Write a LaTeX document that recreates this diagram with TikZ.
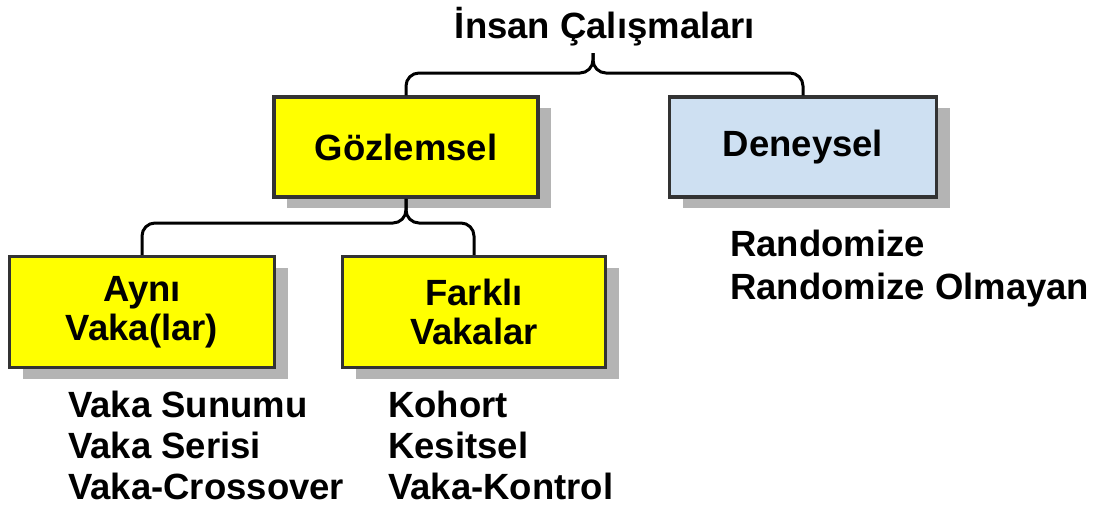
\documentclass[tikz,border=0pt]{standalone}
\usepackage{fontspec}
\setmainfont{Liberation Sans}
\usepackage{tikz}
\usetikzlibrary{shadows}
\definecolor{kutusari}{HTML}{FFFF00}
\definecolor{kutumavi}{HTML}{CEE0F2}
\definecolor{kenar}{HTML}{333333}
\definecolor{golge}{HTML}{B4B4B4}

\begin{document}
\begin{tikzpicture}[x=1pt,y=-1pt,
  kutu/.style={draw=kenar,line width=3.5pt,align=center,inner sep=0pt,
    font=\fontsize{36.5}{39}\selectfont\bfseries,
    drop shadow={shadow xshift=13pt,shadow yshift=-11pt,fill=golge,opacity=1}},
  yazi/.style={anchor=base west,inner sep=0pt,font=\fontsize{36.5}{40}\selectfont\bfseries},
  kavis/.style={line width=3pt,rounded corners=13pt}]
\useasboundingbox (0,0) rectangle (1102,509);
\node[anchor=base,inner sep=0pt,font=\fontsize{36.5}{40}\selectfont\bfseries] (baslik) at (605,38){İnsan Çalışmaları};
\node[kutu,fill=kutusari,minimum width=264pt,minimum height=100pt] (gozlem) at (406,147){Gözlemsel};
\node[kutu,fill=kutumavi,minimum width=267pt,minimum height=100pt] (deney) at (803,147){Deneysel};
\node[kutu,fill=kutusari,minimum width=265pt,minimum height=111pt] (ayni) at (142,312){Aynı\\Vaka(lar)};
\node[kutu,fill=kutusari,minimum width=263pt,minimum height=111pt] (farkli) at (474,312){Farklı\\Vakalar};
\coordinate (ust) at (593,53);
\coordinate (ustorta) at (593,73);
\coordinate (alt) at (406,223);
\draw[kavis] (gozlem.north) |- (ustorta) -- (ust);
\draw[kavis] (deney.north) |- (ustorta) -- (ust);
\draw[kavis] (ayni.north) |- (alt) -- (gozlem.south);
\draw[kavis] (farkli.north) |- (alt) -- (gozlem.south);
\node[yazi] (sunum) at (68,417){Vaka Sunumu};
\node[yazi] (seri) at (68,458){Vaka Serisi};
\node[yazi] (cross) at (68,499){Vaka-Crossover};
\node[yazi] (kohort) at (388,417){Kohort};
\node[yazi] (kesit) at (388,458){Kesitsel};
\node[yazi] (kontrol) at (388,499){Vaka-Kontrol};
\node[yazi] (rand) at (730,256){Randomize};
\node[yazi] (randyok) at (730,299){Randomize Olmayan};
\end{tikzpicture}
\end{document}
